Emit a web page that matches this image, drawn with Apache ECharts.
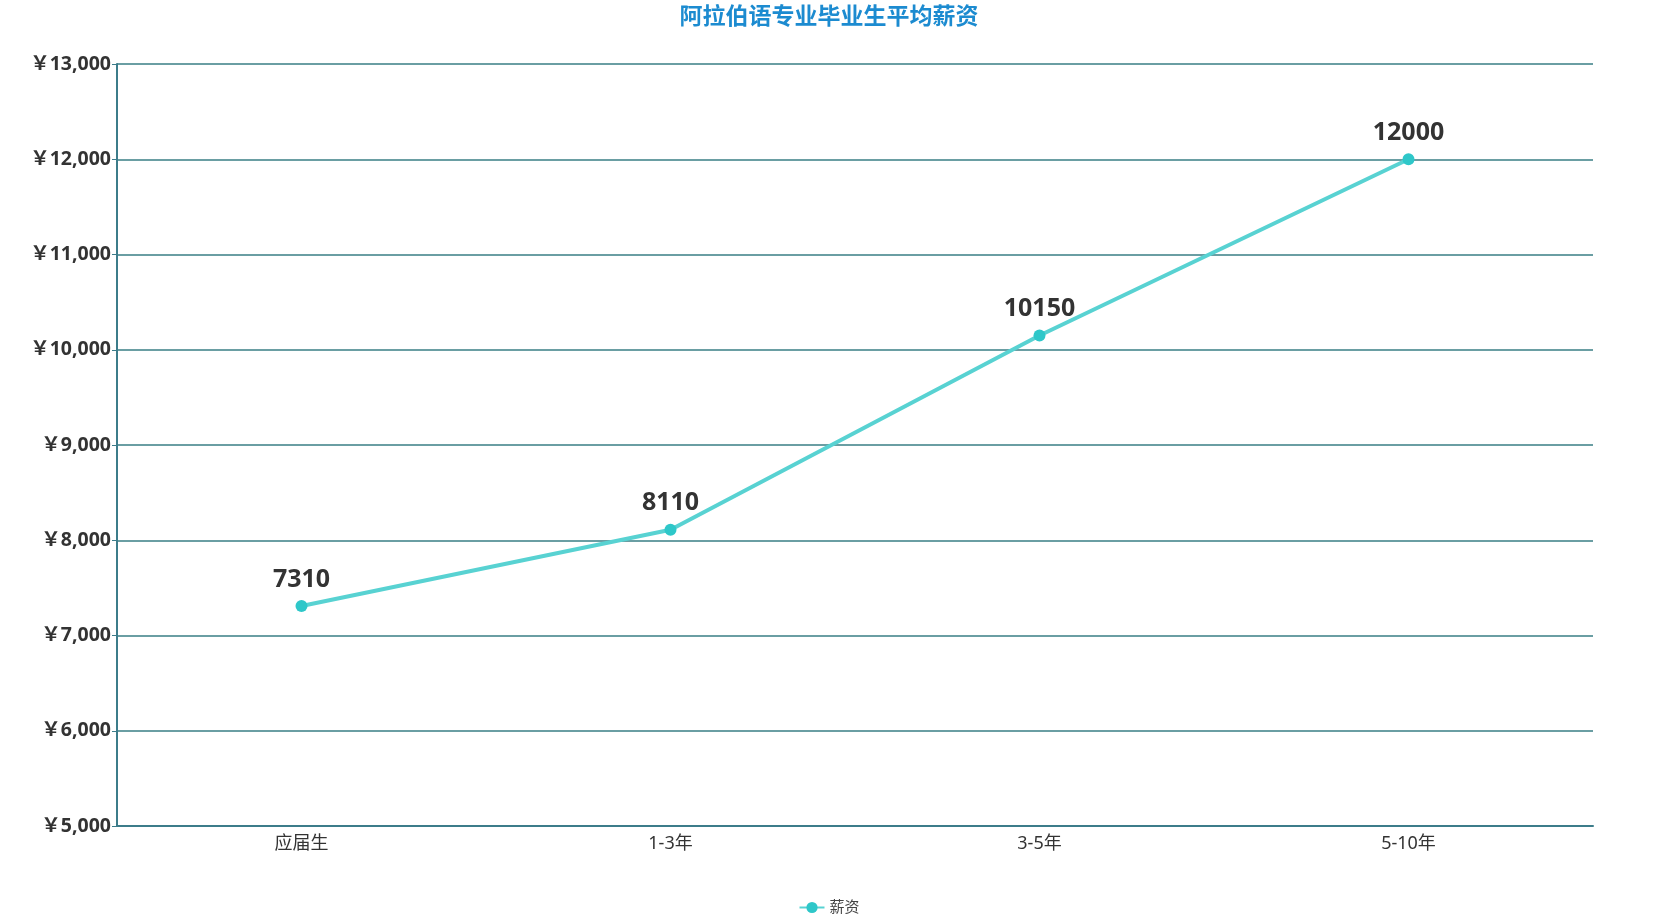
<!DOCTYPE html>
<html lang="zh">
<head>
<meta charset="UTF-8">
<title>阿拉伯语专业毕业生平均薪资</title>
<script src="https://cdn.jsdelivr.net/npm/echarts@6/dist/echarts.min.js"></script>
<style>
  html, body { margin: 0; padding: 0; background: #fff; }
  #main { width: 1658px; height: 920px; }
</style>
</head>
<body>
<div id="main"></div>
<script>
const categories = ['应届生', '1-3年', '3-5年', '5-10年'];
const salary = [7310, 8110, 10150, 12000];
const yMin = 5000, yMax = 13000, yStep = 1000;

const font = '"Noto Sans", "Noto Sans CJK SC", sans-serif';
const chart = echarts.init(document.getElementById('main'));

const option = {
  title: {
    text: '阿拉伯语专业毕业生平均薪资',
    left: 'center',
    top: 1,
    textStyle: { color: '#1c8bd0', fontSize: 23, fontWeight: 'bold', fontFamily: font }
  },
  legend: {
    data: ['薪资'],
    bottom: 0,
    left: 'center',
    itemWidth: 25,
    itemHeight: 14,
    textStyle: { color: '#444', fontSize: 15, fontFamily: font }
  },
  grid: { left: 117, right: 65, top: 64, bottom: 94 },
  xAxis: {
    type: 'category',
    data: categories,
    axisLine: { lineStyle: { color: '#3c7c8a', width: 2 } },
    axisTick: { lineStyle: { color: '#3c7c8a' } },
    axisLabel: { color: '#333', fontSize: 18, fontFamily: font, margin: 9 }
  },
  yAxis: {
    type: 'value',
    min: yMin,
    max: yMax,
    interval: yStep,
    axisLine: { show: true, lineStyle: { color: '#3c7c8a', width: 2 } },
    axisTick: { show: true, lineStyle: { color: '#3c7c8a' } },
    splitLine: { lineStyle: { color: '#6a9ea3', width: 2 } },
    axisLabel: {
      color: '#333',
      fontSize: 19.5,
      fontWeight: 'bold',
      fontFamily: font,
      margin: 6,
      formatter: v => '￥' + v.toLocaleString('en-US')
    }
  },
  series: [{
    name: '薪资',
    type: 'line',
    data: salary,
    symbol: 'circle',
    symbolSize: 12,
    lineStyle: { color: '#58d2d2', width: 4 },
    itemStyle: { color: '#2ec7c9' },
    label: {
      show: true,
      position: 'top',
      distance: 8,
      color: '#333',
      fontSize: 25,
      fontWeight: 'bold',
      fontFamily: font
    }
  }]
};
chart.setOption(option);
</script>
</body>
</html>
